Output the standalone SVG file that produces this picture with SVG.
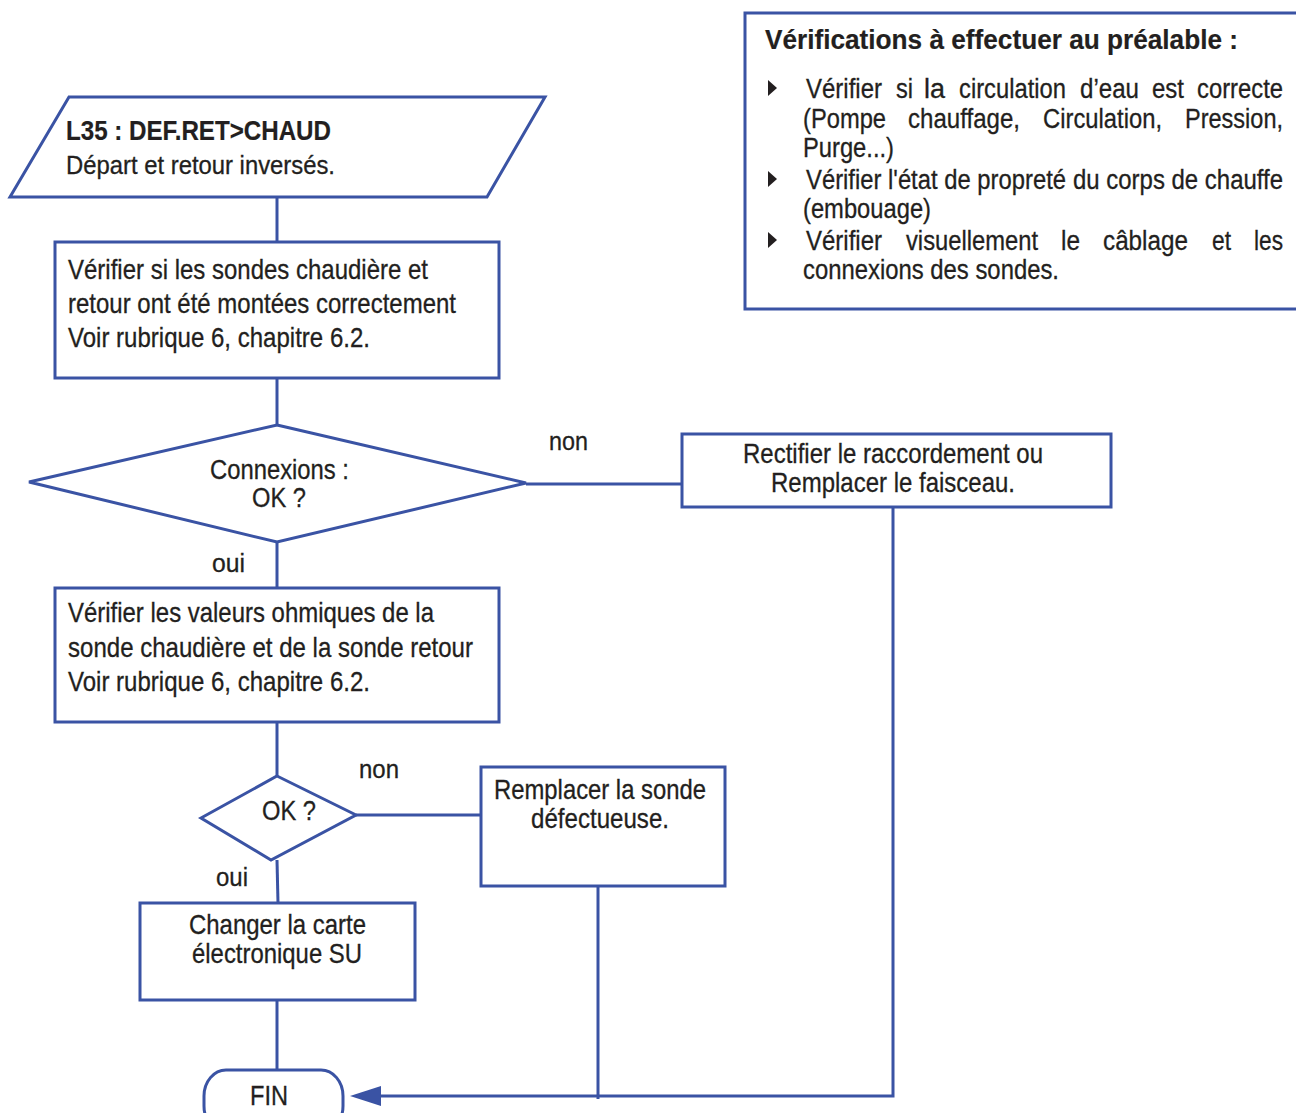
<svg xmlns="http://www.w3.org/2000/svg" width="1296" height="1113" viewBox="0 0 1296 1113">
  <style>
    .shape { fill: #ffffff; stroke: #3a53a4; stroke-width: 3; }
    .wire { fill: none; stroke: #3a53a4; stroke-width: 3; }
    .t { font-family: "Liberation Sans Narrow", "Liberation Sans", Arial, sans-serif; font-size: 28px; fill: #231f20; stroke: #231f20; stroke-width: 0.3px; }
    .m { font-size: 26px; }
    .s { font-size: 27px; }
    .b { font-weight: bold; stroke-width: 0.2px; }
    .bullet { fill: #231f20; }
  </style>
  <rect width="1296" height="1113" fill="#ffffff"/>

  <!-- connectors -->
  <g id="connectors">
    <line class="wire" x1="277" y1="197" x2="277" y2="242"/>
    <line class="wire" x1="277" y1="378" x2="277" y2="425"/>
    <line class="wire" x1="526" y1="484" x2="682" y2="484"/>
    <line class="wire" x1="277" y1="542" x2="277" y2="588"/>
    <line class="wire" x1="277" y1="722" x2="277" y2="776"/>
    <line class="wire" x1="356" y1="815" x2="481" y2="815"/>
    <line class="wire" x1="277" y1="860" x2="278" y2="903"/>
    <line class="wire" x1="277" y1="1000" x2="277" y2="1070"/>
    <line class="wire" x1="598" y1="886" x2="598" y2="1099"/>
    <polyline class="wire" points="893,507 893,1096 378,1096"/>
    <polygon points="350,1096 381,1086 381,1106" fill="#3a53a4"/>
    <text class="t m" x="549" y="450" textLength="39" lengthAdjust="spacingAndGlyphs">non</text>
    <text class="t m" x="212" y="572" textLength="33" lengthAdjust="spacingAndGlyphs">oui</text>
    <text class="t m" x="359" y="778" textLength="40" lengthAdjust="spacingAndGlyphs">non</text>
    <text class="t m" x="216" y="886" textLength="32" lengthAdjust="spacingAndGlyphs">oui</text>
  </g>

  <!-- start: error code -->
  <g id="start">
    <polygon class="shape" points="69,97 545,97 487,197 10,197"/>
    <text class="t b s" x="66" y="140" textLength="265" lengthAdjust="spacingAndGlyphs">L35 : DEF.RET&gt;CHAUD</text>
    <text class="t m" x="66" y="174" textLength="269" lengthAdjust="spacingAndGlyphs">Départ et retour inversés.</text>
  </g>

  <g id="check-mounting">
    <rect class="shape" x="55" y="242" width="444" height="136"/>
    <text class="t" x="68" y="279" textLength="360" lengthAdjust="spacingAndGlyphs">Vérifier si les sondes chaudière et</text>
    <text class="t" x="68" y="313" textLength="388" lengthAdjust="spacingAndGlyphs">retour ont été montées correctement</text>
    <text class="t" x="68" y="347" textLength="302" lengthAdjust="spacingAndGlyphs">Voir rubrique 6, chapitre 6.2.</text>
  </g>

  <g id="decision-connections">
    <polygon class="shape" points="277,425 526,483 277,542 29,482"/>
    <text class="t s" x="210" y="479" textLength="139" lengthAdjust="spacingAndGlyphs">Connexions :</text>
    <text class="t s" x="252" y="507" textLength="54" lengthAdjust="spacingAndGlyphs">OK ?</text>
  </g>

  <g id="fix-wiring">
    <rect class="shape" x="682" y="434" width="429" height="73"/>
    <text class="t" x="743" y="463" textLength="300" lengthAdjust="spacingAndGlyphs">Rectifier le raccordement ou</text>
    <text class="t" x="771" y="492" textLength="244" lengthAdjust="spacingAndGlyphs">Remplacer le faisceau.</text>
  </g>

  <g id="check-resistance">
    <rect class="shape" x="55" y="588" width="444" height="134"/>
    <text class="t" x="68" y="622" textLength="366" lengthAdjust="spacingAndGlyphs">Vérifier les valeurs ohmiques de la</text>
    <text class="t" x="68" y="657" textLength="405" lengthAdjust="spacingAndGlyphs">sonde chaudière et de la sonde retour</text>
    <text class="t" x="68" y="691" textLength="302" lengthAdjust="spacingAndGlyphs">Voir rubrique 6, chapitre 6.2.</text>
  </g>

  <g id="decision-ok">
    <polygon class="shape" points="277,776 356,815 271,860 201,818"/>
    <text class="t s" x="262" y="820" textLength="54" lengthAdjust="spacingAndGlyphs">OK ?</text>
  </g>

  <g id="replace-sensor">
    <rect class="shape" x="481" y="767" width="244" height="119"/>
    <text class="t" x="494" y="799" textLength="212" lengthAdjust="spacingAndGlyphs">Remplacer la sonde</text>
    <text class="t" x="531" y="828" textLength="138" lengthAdjust="spacingAndGlyphs">défectueuse.</text>
  </g>

  <g id="replace-board">
    <rect class="shape" x="140" y="903" width="275" height="97"/>
    <text class="t" x="189" y="934" textLength="177" lengthAdjust="spacingAndGlyphs">Changer la carte</text>
    <text class="t" x="192" y="963" textLength="170" lengthAdjust="spacingAndGlyphs">électronique SU</text>
  </g>

  <g id="end">
    <rect class="shape" x="204" y="1070" width="139" height="62" rx="22" ry="26"/>
    <text class="t" x="250" y="1105" textLength="38" lengthAdjust="spacingAndGlyphs">FIN</text>
  </g>

  <!-- preliminary checks panel -->
  <g id="preliminary-checks">
    <rect class="shape" x="745" y="13" width="560" height="296"/>
    <text class="t b" x="765" y="49" textLength="473" lengthAdjust="spacingAndGlyphs">Vérifications à effectuer au préalable :</text>

    <polygon class="bullet" points="768,80 777,88 768,96"/>
    <text class="t s" x="806" y="98" textLength="76" lengthAdjust="spacingAndGlyphs">Vérifier</text>
    <text class="t s" x="896" y="98" textLength="17" lengthAdjust="spacingAndGlyphs">si</text>
    <text class="t s" x="924" y="98" textLength="21" lengthAdjust="spacingAndGlyphs">la</text>
    <text class="t s" x="959" y="98" textLength="107" lengthAdjust="spacingAndGlyphs">circulation</text>
    <text class="t s" x="1080" y="98" textLength="59" lengthAdjust="spacingAndGlyphs">d’eau</text>
    <text class="t s" x="1152" y="98" textLength="32" lengthAdjust="spacingAndGlyphs">est</text>
    <text class="t s" x="1197" y="98" textLength="86" lengthAdjust="spacingAndGlyphs">correcte</text>

    <text class="t s" x="803" y="128" textLength="83" lengthAdjust="spacingAndGlyphs">(Pompe</text>
    <text class="t s" x="908" y="128" textLength="112" lengthAdjust="spacingAndGlyphs">chauffage,</text>
    <text class="t s" x="1043" y="128" textLength="119" lengthAdjust="spacingAndGlyphs">Circulation,</text>
    <text class="t s" x="1185" y="128" textLength="98" lengthAdjust="spacingAndGlyphs">Pression,</text>
    <text class="t s" x="803" y="157" textLength="91" lengthAdjust="spacingAndGlyphs">Purge...)</text>

    <polygon class="bullet" points="768,171 777,179 768,187"/>
    <text class="t s" x="806" y="189" textLength="260" lengthAdjust="spacingAndGlyphs">Vérifier l'état de propreté</text>
    <text class="t s" x="1073" y="189" textLength="210" lengthAdjust="spacingAndGlyphs">du corps de chauffe</text>
    <text class="t s" x="803" y="218" textLength="128" lengthAdjust="spacingAndGlyphs">(embouage)</text>

    <polygon class="bullet" points="768,232 777,240 768,248"/>
    <text class="t s" x="806" y="250" textLength="76" lengthAdjust="spacingAndGlyphs">Vérifier</text>
    <text class="t s" x="906" y="250" textLength="132" lengthAdjust="spacingAndGlyphs">visuellement</text>
    <text class="t s" x="1061" y="250" textLength="19" lengthAdjust="spacingAndGlyphs">le</text>
    <text class="t s" x="1103" y="250" textLength="85" lengthAdjust="spacingAndGlyphs">câblage</text>
    <text class="t s" x="1212" y="250" textLength="19" lengthAdjust="spacingAndGlyphs">et</text>
    <text class="t s" x="1254" y="250" textLength="29" lengthAdjust="spacingAndGlyphs">les</text>
    <text class="t s" x="803" y="279" textLength="256" lengthAdjust="spacingAndGlyphs">connexions des sondes.</text>
  </g>
</svg>
